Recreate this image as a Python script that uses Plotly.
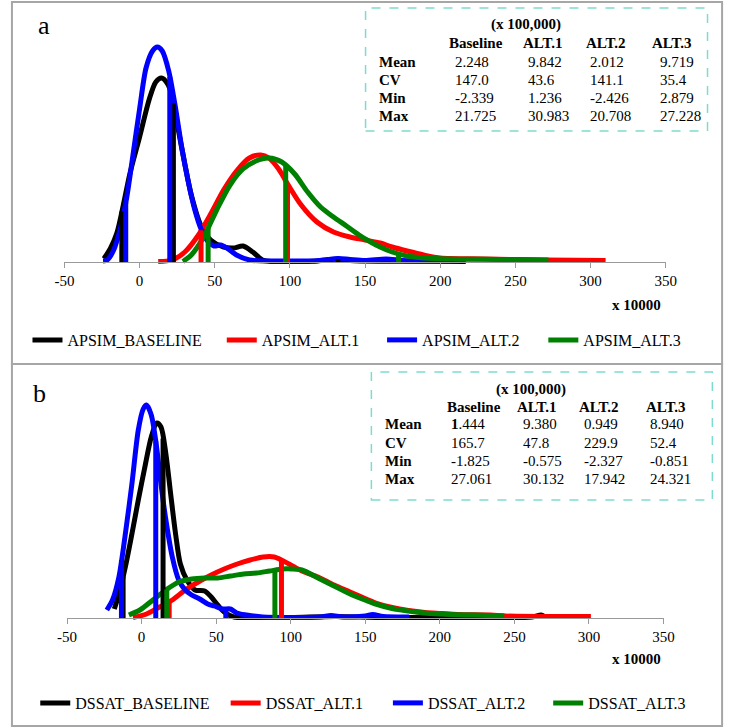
import numpy as np
import plotly.graph_objects as go

# ---------------- data ----------------
series_names_a = ["APSIM_BASELINE", "APSIM_ALT.1", "APSIM_ALT.2", "APSIM_ALT.3"]
series_names_b = ["DSSAT_BASELINE", "DSSAT_ALT.1", "DSSAT_ALT.2", "DSSAT_ALT.3"]
x_ticks = [-50, 0, 50, 100, 150, 200, 250, 300, 350]

# Panel a density curves (x in units of 10000, y = relative density)
a_black_x = [-23.7, -19.4, -15.1, -10.8, -6.5, 0, 6.5, 10.8, 14.6, 18.3, 21.5, 25.8, 30.1, 34.4, 40.9, 47.3, 55.9, 62.4, 68.8, 75.3, 81.7, 86, 100, 115, 125, 132, 140, 160, 190, 217]
a_black_y = [3.4, 13.7, 29, 57, 88, 125, 163, 180, 184, 179, 167, 132, 98, 67, 36, 22, 15, 14, 16, 10, 2, 0.8, 0.5, 0.8, 2, 3, 1.5, 0.8, 0.8, 0.5]
a_red_x = [12.4, 21.5, 30.1, 38.7, 47.3, 55.9, 64.5, 73.1, 80.6, 86, 92.5, 98.9, 107.5, 118, 129, 140, 150, 160, 168, 178, 189, 200, 230, 270, 310]
a_red_y = [0.5, 2, 10, 26, 48, 72, 91, 104, 107, 104, 93, 77, 57, 40, 30, 25, 22, 19, 15, 11, 7, 4, 3, 2, 1.5]
a_blue_x = [-24.3, -21.5, -17.2, -12.9, -8.6, -4.3, 0, 4.3, 8.6, 11.8, 15.1, 19.4, 23.7, 28, 32.3, 36.6, 40.9, 45.2, 49.5, 53.8, 58.1, 64.5, 73.1, 86, 100, 115, 125, 132, 140, 150, 164, 175, 190, 207]
a_blue_y = [1, 2, 12, 33, 64, 108, 153, 194, 211, 215, 211, 191, 156, 115, 81, 53, 33, 21, 16, 17, 14, 7, 2, 1, 1, 1, 2.5, 3.5, 2.5, 1.5, 3, 1.5, 1, 1]
a_green_x = [28.8, 34.4, 43, 51.6, 60.2, 68.8, 77.4, 86, 94.6, 103.2, 111.8, 120.4, 129, 137.6, 146, 152.5, 160, 168, 178, 189, 206, 240, 272]
a_green_y = [0.5, 7, 26, 53, 77, 93, 101, 104, 100, 88, 70, 55, 45, 36, 27, 21, 15, 10, 6, 4, 3, 2.5, 2]
a_marks = [[-11.8, 22.5, 132], [40.9, 98.4], [-9.2, 20.1], [45.6, 97.2, 172.3]]

# Panel b density curves
b_black_x = [-18.3, -15.2, -10.9, -6.5, -2.2, 2.2, 6.5, 10.2, 13, 16.3, 19.5, 22.8, 26, 30.4, 35.8, 42.3, 46.7, 51, 55.4, 61.9, 75, 100, 130, 160, 200, 240, 262, 268, 270.6]
b_black_y = [9, 24, 51, 84, 118, 151, 181, 195, 191, 164, 124, 84, 54, 38, 28, 27, 21, 13, 6, 1, 0.5, 0.5, 1.5, 0.5, 0.5, 0.5, 1, 3, 1]
b_red_x = [-5.75, 3.3, 12, 20.6, 29.3, 38, 46.7, 55.4, 64.1, 72.8, 81.5, 89, 98.9, 107.5, 118.3, 129, 139.8, 150.6, 157, 168, 179, 190, 201, 212, 234, 244, 270, 301.3]
b_red_y = [0.5, 4, 11, 18, 28, 36, 43, 49, 54, 58, 61, 61, 54, 47, 41, 33, 26, 19, 15, 10.5, 7.5, 5.5, 4.5, 3.5, 3, 2, 1.5, 1.5]
b_blue_x = [-23.3, -19.5, -15.2, -10.9, -6.5, -2.2, 1.1, 3.3, 6.5, 9.8, 13, 16.3, 20.6, 24.9, 29.3, 33.6, 39, 44.4, 48.7, 54.1, 59.5, 63.8, 70.4, 81.2, 100, 120, 127, 135, 150, 155, 162, 179.4]
b_blue_y = [8, 18, 41, 84, 134, 188, 209, 213, 203, 174, 134, 98, 61, 38, 28, 23, 19, 14, 12, 9, 9, 5, 3, 1, 0.5, 1, 2.5, 1, 2, 3.5, 1.5, 1]
b_green_x = [-8.5, -1.1, 7.6, 16.3, 24.9, 33.6, 42.3, 51, 59.7, 68.4, 77.1, 85.8, 94.5, 101, 107.5, 118.3, 129, 139.8, 150.6, 157, 168, 179, 190, 201, 212, 234, 243.2]
b_green_y = [3, 8, 18, 28, 36, 39, 40, 40, 42, 44, 45, 47, 49, 49, 48, 40, 32, 24, 17.5, 14, 9.5, 7, 5, 4, 3.3, 2.5, 2]
b_marks = [[-12.4, 14.4, 60], [18.5, 93.8], [-13.5, 9.5, 56.5], [16.9, 89.4]]

# Statistics tables (x 100,000)
table_cols = ["Baseline", "ALT.1", "ALT.2", "ALT.3"]
table_rows = ["Mean", "CV", "Min", "Max"]
a_mean = ["2.248", "9.842", "2.012", "9.719"]
a_cv = ["147.0", "43.6", "141.1", "35.4"]
a_min = ["-2.339", "1.236", "-2.426", "2.879"]
a_max = ["21.725", "30.983", "20.708", "27.228"]
b_mean = ["<b>1</b>.444", "9.380", "0.949", "8.940"]
b_cv = ["165.7", "47.8", "229.9", "52.4"]
b_min = ["-1.825", "-0.575", "-2.327", "-0.851"]
b_max = ["27.061", "30.132", "17.942", "24.321"]

# ---------------- styling ----------------
W, H = 736, 728
colors = ["#000000", "#ff0000", "#0000ff", "#008000"]
FONT = "Liberation Serif, Times New Roman, serif"
LW = 5


def px(p):
    return p / W


def py(p):
    return 1 - p / H


fig = go.Figure()

panels = [
    dict(names=series_names_a,
         curves=[(a_black_x, a_black_y), (a_red_x, a_red_y), (a_blue_x, a_blue_y), (a_green_x, a_green_y)],
         marks=a_marks, xa="x", ya="y", legends=["legend", "legend2", "legend3", "legend4"]),
    dict(names=series_names_b,
         curves=[(b_black_x, b_black_y), (b_red_x, b_red_y), (b_blue_x, b_blue_y), (b_green_x, b_green_y)],
         marks=b_marks, xa="x2", ya="y2", legends=["legend5", "legend6", "legend7", "legend8"]),
]

for p in panels:
    for i, (cx, cy) in enumerate(p["curves"]):
        fig.add_trace(go.Scatter(
            x=cx, y=cy, mode="lines", name=p["names"][i],
            line=dict(color=colors[i], width=LW, shape="spline", smoothing=0.8),
            xaxis=p["xa"], yaxis=p["ya"], legend=p["legends"][i], showlegend=True,
            hoverinfo="skip"))
    for i, (cx, cy) in enumerate(p["curves"]):
        vx, vy = [], []
        for m in p["marks"][i]:
            h = float(np.interp(m, cx, cy))
            vx += [m, m, None]
            vy += [0, h, None]
        fig.add_trace(go.Scatter(
            x=vx, y=vy, mode="lines", line=dict(color=colors[i], width=LW),
            xaxis=p["xa"], yaxis=p["ya"], showlegend=False, hoverinfo="skip"))

axis_common = dict(range=[-50, 350], tickvals=x_ticks, ticktext=[str(t) for t in x_ticks],
                   showgrid=False, zeroline=False, showline=True, linecolor="#9a9a9a", linewidth=1,
                   ticks="outside", ticklen=5, tickcolor="#9a9a9a",
                   tickfont=dict(family=FONT, size=15, color="black"), anchor="free",
                   ticklabelstandoff=0, fixedrange=True)

yaxis_common = dict(range=[-4, 240], visible=False, showgrid=False, zeroline=False, fixedrange=True)

layout = dict(
    width=W, height=H, autosize=False,
    margin=dict(l=0, r=0, t=0, b=0),
    paper_bgcolor="white", plot_bgcolor="white",
    xaxis=dict(axis_common, domain=[px(56), px(675)], position=py(262)),
    yaxis=dict(yaxis_common, domain=[py(266), py(22)], anchor="x"),
    xaxis2=dict(axis_common, domain=[px(58.7), px(672.7)], position=py(618)),
    yaxis2=dict(yaxis_common, domain=[py(622), py(378)], anchor="x2"),
)

# legends: one per series so each item can sit where it is in the reference
leg_pos = [(18, 340), (218, 340), (383, 340), (549, 340),
           (26, 703), (222, 703), (389, 703), (554, 703)]
leg_keys = ["legend", "legend2", "legend3", "legend4", "legend5", "legend6", "legend7", "legend8"]
for k, (lx, ly) in zip(leg_keys, leg_pos):
    layout[k] = dict(x=px(lx), y=py(ly), xanchor="left", yanchor="middle", orientation="h",
                     font=dict(family=FONT, size=16, color="black"), bgcolor="rgba(0,0,0,0)",
                     itemwidth=30, borderwidth=0)

fig.update_layout(**layout)

shapes = []
# panel frames
shapes.append(dict(type="rect", xref="paper", yref="paper", x0=px(2), x1=px(733), y0=py(364), y1=py(2),
                   line=dict(color="#a6a6a6", width=2)))
shapes.append(dict(type="rect", xref="paper", yref="paper", x0=px(2), x1=px(733), y0=py(726), y1=py(364),
                   line=dict(color="#a6a6a6", width=2)))
# table boxes
shapes.append(dict(type="rect", xref="paper", yref="paper", x0=px(366), x1=px(718), y0=py(131), y1=py(8),
                   line=dict(color="#7ddccf", width=1.5, dash="dash")))
shapes.append(dict(type="rect", xref="paper", yref="paper", x0=px(372), x1=px(723), y0=py(500), y1=py(372),
                   line=dict(color="#7ddccf", width=1.5, dash="dash")))

annotations = []


def txt(x, y, s, size=15, bold=False, anchor="left"):
    annotations.append(dict(xref="paper", yref="paper", x=px(x), y=py(y), text=(f"<b>{s}</b>" if bold else s),
                            showarrow=False, xanchor=anchor, yanchor="middle",
                            font=dict(family=FONT, size=size, color="black")))


# panel letters
txt(27, 26, "a", size=26)
txt(22, 393, "b", size=26)
# x 10000 labels
txt(645, 305, "x 10000", size=15, bold=True, anchor="center")
txt(645, 659, "x 10000", size=15, bold=True, anchor="center")

tables = [
    dict(title=(493, 25), head_y=43, rows_y=[62, 80, 98, 116], label_x=378,
         head_x=[450, 526, 591, 659], val_x=[456, 531, 595, 667], vals=[a_mean, a_cv, a_min, a_max]),
    dict(title=(498, 389), head_y=407, rows_y=[424, 443, 461, 479], label_x=384,
         head_x=[448, 520, 584, 653], val_x=[452, 526, 589, 657], vals=[b_mean, b_cv, b_min, b_max]),
]
for t in tables:
    txt(t["title"][0], t["title"][1], "(x 100,000)", bold=True)
    for c, hx in zip(table_cols, t["head_x"]):
        txt(hx, t["head_y"], c, bold=True)
    for r, ry, vals in zip(table_rows, t["rows_y"], t["vals"]):
        txt(t["label_x"], ry, r, bold=True)
        for v, vx in zip(vals, t["val_x"]):
            txt(vx, ry, v)

fig.update_layout(shapes=shapes, annotations=annotations)
fig.write_html("out.html", config={"displayModeBar": False},
               post_script="document.body.style.margin='0';")
